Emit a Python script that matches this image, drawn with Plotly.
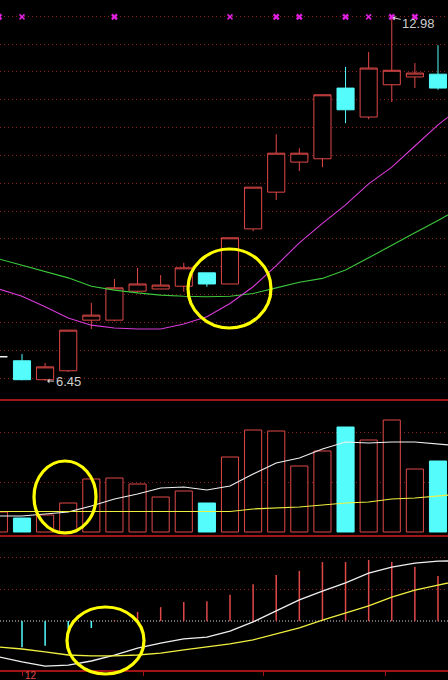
import plotly.graph_objects as go

# ---------------- data ----------------
# bar index (-1 is the partially visible bar at the left edge)
idx = list(range(-1, 19))
cdl_idx = list(range(0, 19))
# indicator lines run on to the (off-screen) next bar, index 19
line_idx = list(range(-1, 20))

open_ = [6.81, 6.47, 6.63, 7.54, 7.54, 8.06, 8.10, 8.15, 8.39, 8.19, 9.18, 9.84, 10.38, 10.44, 11.71, 11.19, 11.77, 11.91, 11.96]
high = [6.93, 6.77, 7.36, 7.85, 8.28, 8.48, 8.35, 8.57, 8.39, 9.02, 9.93, 10.88, 10.63, 11.59, 12.09, 12.36, 12.98, 12.16, 12.48]
low = [6.46, 6.45, 6.61, 7.38, 7.52, 8.03, 8.10, 8.05, 8.14, 8.19, 9.14, 9.70, 10.22, 10.29, 11.08, 11.15, 11.46, 11.71, 11.68]
close = [6.47, 6.70, 7.36, 7.63, 8.12, 8.19, 8.17, 8.48, 8.19, 9.02, 9.93, 10.54, 10.54, 11.59, 11.32, 12.07, 12.03, 11.98, 11.71]

doji_idx = [-1]
doji_price = [6.88]

ma_magenta = [8.10, 7.97, 7.78, 7.58, 7.45, 7.40, 7.38, 7.38, 7.47, 7.60, 7.84, 8.14, 8.52, 8.93, 9.28, 9.61, 9.99, 10.29, 10.67, 11.05, 11.37]
ma_green = [8.64, 8.53, 8.42, 8.30, 8.15, 8.08, 8.03, 7.99, 7.97, 7.96, 7.97, 8.02, 8.12, 8.22, 8.29, 8.44, 8.66, 8.89, 9.11, 9.33, 9.56]

signal_big = [-1, 4, 11, 12, 14, 16, 17]
signal_small = [0, 9, 15]
SIGNAL_LEVEL = 12.99

volume = [0.40, 0.28, 0.34, 0.58, 1.06, 1.08, 0.96, 0.70, 0.82, 0.58, 1.50, 2.04, 2.02, 1.32, 1.62, 2.10, 1.84, 2.24, 1.26, 1.42]
vol_ma_white = [0.32, 0.32, 0.36, 0.40, 0.52, 0.66, 0.76, 0.88, 0.90, 0.84, 0.92, 1.16, 1.38, 1.48, 1.66, 1.80, 1.78, 1.80, 1.80, 1.76, 1.72]
vol_ma_yellow = [0.41, 0.41, 0.41, 0.40, 0.40, 0.40, 0.40, 0.40, 0.40, 0.40, 0.41, 0.46, 0.48, 0.50, 0.54, 0.58, 0.60, 0.66, 0.68, 0.72, 0.76]

macd_hist = [None, -0.83, -0.79, -0.25, -0.22, 0.03, 0.29, 0.44, 0.60, 0.63, 0.83, 1.17, 1.46, 1.59, 1.87, 1.87, 1.94, 1.87, 1.71, 1.43]
dif = [-1.14, -1.30, -1.43, -1.40, -1.27, -1.08, -0.86, -0.70, -0.57, -0.51, -0.32, -0.03, 0.32, 0.67, 0.95, 1.21, 1.52, 1.71, 1.84, 1.90, 1.91]
dea = [-0.83, -0.89, -0.98, -1.08, -1.11, -1.11, -1.08, -1.02, -0.92, -0.83, -0.73, -0.60, -0.41, -0.22, 0.03, 0.25, 0.48, 0.76, 0.98, 1.14, 1.29]

hi_label = "12.98"
lo_label = "6.45"
axis_label = "12"

# ---------------- style ----------------
W, H = 448, 680
RED = "#E04848"
CYAN = "#54FCFC"
MAG = "#D83CD8"
GREEN = "#3CC83C"
YEL = "#F0F040"
WHITE = "#F0F0F0"
GRID = "#8C1E1E"
BORDER = "#A01414"
TXT = "#CFCFCF"

XR = [-0.952, 18.433]


def py(px):
    return 1 - px / H


fig = go.Figure()

# price panel
fig.add_trace(go.Candlestick(
    x=cdl_idx, open=open_, high=high, low=low, close=close,
    increasing=dict(line=dict(color=RED, width=1), fillcolor="#000000"),
    decreasing=dict(line=dict(color=CYAN, width=1), fillcolor=CYAN),
    whiskerwidth=0, showlegend=False, hoverinfo="skip", xaxis="x", yaxis="y"))
fig.add_trace(go.Candlestick(
    x=doji_idx, open=doji_price, high=doji_price, low=doji_price, close=doji_price,
    increasing=dict(line=dict(color=WHITE, width=1.5), fillcolor=WHITE),
    decreasing=dict(line=dict(color=WHITE, width=1.5), fillcolor=WHITE),
    whiskerwidth=0, showlegend=False, hoverinfo="skip", xaxis="x", yaxis="y"))
fig.add_trace(go.Scatter(x=line_idx, y=ma_green, mode="lines", line=dict(color=GREEN, width=1.1),
                         showlegend=False, hoverinfo="skip", xaxis="x", yaxis="y"))
fig.add_trace(go.Scatter(x=line_idx, y=ma_magenta, mode="lines", line=dict(color=MAG, width=1.1),
                         showlegend=False, hoverinfo="skip", xaxis="x", yaxis="y"))
fig.add_trace(go.Scatter(x=signal_big, y=[SIGNAL_LEVEL] * len(signal_big), mode="markers",
                         marker=dict(symbol="x", size=6, color="#E020E0", line=dict(width=0)),
                         showlegend=False, hoverinfo="skip", xaxis="x", yaxis="y"))
fig.add_trace(go.Scatter(x=signal_small, y=[SIGNAL_LEVEL] * len(signal_small), mode="markers",
                         marker=dict(symbol="x-thin", size=5, color="#E020E0", line=dict(width=1.5, color="#E020E0")),
                         showlegend=False, hoverinfo="skip", xaxis="x", yaxis="y"))

# volume panel
up = [True] + [c >= o for o, c in zip(open_, close)]
vol_fill = ["#000000" if u else CYAN for u in up]
vol_line = [RED if u else CYAN for u in up]
fig.add_trace(go.Bar(x=idx, y=volume, width=0.74,
                     marker=dict(color=vol_fill, line=dict(color=vol_line, width=1)),
                     showlegend=False, hoverinfo="skip", xaxis="x2", yaxis="y2"))
fig.add_trace(go.Scatter(x=line_idx, y=vol_ma_white, mode="lines", line=dict(color=WHITE, width=1.2),
                         showlegend=False, hoverinfo="skip", xaxis="x2", yaxis="y2"))
fig.add_trace(go.Scatter(x=line_idx, y=vol_ma_yellow, mode="lines", line=dict(color=YEL, width=1.2),
                         showlegend=False, hoverinfo="skip", xaxis="x2", yaxis="y2"))

# MACD panel
hist_col = [RED if (v is not None and v >= 0) else CYAN for v in macd_hist]
fig.add_trace(go.Bar(x=idx, y=macd_hist, width=0.065, marker=dict(color=hist_col, line=dict(width=0)),
                     showlegend=False, hoverinfo="skip", xaxis="x3", yaxis="y3"))
fig.add_trace(go.Scatter(x=line_idx, y=dif, mode="lines", line=dict(color=WHITE, width=1.3),
                         showlegend=False, hoverinfo="skip", xaxis="x3", yaxis="y3"))
fig.add_trace(go.Scatter(x=line_idx, y=dea, mode="lines", line=dict(color=YEL, width=1.3),
                         showlegend=False, hoverinfo="skip", xaxis="x3", yaxis="y3"))

ax_common = dict(range=XR, showgrid=False, zeroline=False, showticklabels=False,
                 fixedrange=True)

price_dom = [py(399), 1.0]
vol_dom = [py(535), py(400)]
macd_dom = [py(670), py(536)]

fig.update_layout(
    width=W, height=H,
    margin=dict(l=0, r=0, t=0, b=0),
    paper_bgcolor="#000000", plot_bgcolor="#000000",
    showlegend=False,
    barmode="overlay",
    boxgap=0.26, boxgroupgap=0,
    hovermode=False,
    xaxis=dict(**ax_common, domain=[0, 1], anchor="y", rangeslider=dict(visible=False),
               showline=True, linecolor=BORDER, linewidth=1.5),
    xaxis2=dict(**ax_common, domain=[0, 1], anchor="y2", matches="x",
                showline=True, linecolor=BORDER, linewidth=1.5),
    xaxis3=dict(**ax_common, domain=[0, 1], anchor="y3", matches="x",
                showline=True, linecolor=BORDER, linewidth=1.5,
                ticks="outside", ticklen=4, tickcolor=BORDER, tickwidth=1,
                tickvals=[0, 5.24, 10.47, 15.75]),
    yaxis=dict(domain=price_dom, range=[6.123, 13.293], tick0=6.5, dtick=0.5,
               showgrid=True, gridcolor=GRID, griddash="1px,3px", gridwidth=1,
               zeroline=False, showticklabels=False, fixedrange=True),
    yaxis2=dict(domain=vol_dom, range=[-0.06, 2.64], tickvals=[1, 2],
                showgrid=True, gridcolor=GRID, griddash="1px,3px", gridwidth=1,
                zeroline=False, showticklabels=False, fixedrange=True),
    yaxis3=dict(domain=macd_dom, range=[-1.556, 2.698], tickvals=[1, 2],
                showgrid=True, gridcolor=GRID, griddash="1px,3px", gridwidth=1,
                zeroline=False, showticklabels=False, fixedrange=True),
)

# zero line of MACD
fig.add_shape(type="line", xref="paper", x0=0, x1=1, yref="y3", y0=0, y1=0,
              line=dict(color="#D8D8D8", width=1, dash="1px,2px"), layer="below")

# yellow hand-drawn circles
for (x0, x1, y0, y1) in [(188, 271, 249, 328), (34, 96, 461, 533), (67, 144, 607, 674)]:
    fig.add_shape(type="circle", xref="paper", yref="paper",
                  x0=x0 / W, x1=x1 / W, y0=py(y1), y1=py(y0),
                  line=dict(color="#FFFF00", width=3.2))

# high / low labels
hi_i = high.index(max(high))
lo_i = low.index(min(low))
fig.add_annotation(x=cdl_idx[hi_i], y=high[hi_i], xref="x", yref="y", text=hi_label,
                   showarrow=True, ax=27, ay=6, arrowhead=1, arrowsize=0.8, arrowwidth=1,
                   arrowcolor=TXT, standoff=1, font=dict(family="Liberation Sans", size=13, color=TXT))
fig.add_annotation(x=cdl_idx[lo_i], y=low[lo_i], xref="x", yref="y", text=lo_label,
                   showarrow=True, ax=23, ay=1, arrowhead=1, arrowsize=0.8, arrowwidth=1,
                   arrowcolor=TXT, standoff=2, font=dict(family="Liberation Sans", size=13, color=TXT))
fig.add_annotation(x=0, y=py(670), xref="x3", yref="paper", text=axis_label, showarrow=False,
                   xanchor="left", yanchor="top", xshift=1, yshift=2,
                   font=dict(family="Liberation Sans", size=10, color=RED))

fig.write_html("out.html", config={"displayModeBar": False, "staticPlot": True},
               post_script="document.body.style.margin='0px';document.body.style.background='#000';")
